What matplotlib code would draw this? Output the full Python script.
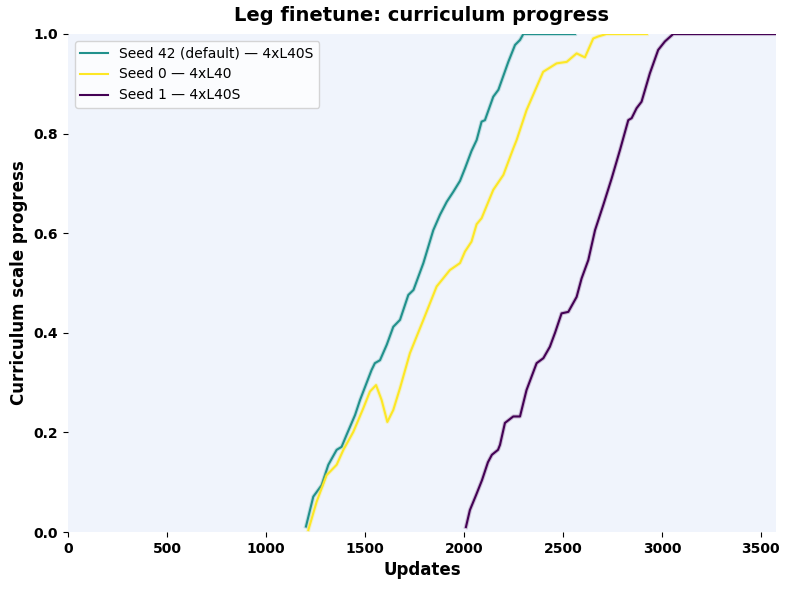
import matplotlib.pyplot as plt

# curriculum progress per seed
seed42_updates = [1202, 1239, 1281, 1315, 1357, 1382, 1407, 1450, 1475, 1533, 1550, 1576,
                  1610, 1643, 1660, 1677, 1719, 1745, 1795, 1845, 1879, 1913, 1946, 1980,
                  2005, 2038, 2064, 2089, 2106, 2148, 2174, 2224, 2258, 2283, 2300, 2561]
seed42_progress = [0.011, 0.071, 0.094, 0.135, 0.165, 0.171, 0.195, 0.235, 0.265, 0.325, 0.339, 0.345,
                   0.376, 0.412, 0.419, 0.426, 0.476, 0.486, 0.540, 0.606, 0.637, 0.663, 0.683, 0.705,
                   0.730, 0.765, 0.787, 0.824, 0.827, 0.874, 0.888, 0.944, 0.978, 0.988, 1.0, 1.0]

seed0_updates = [1214, 1256, 1306, 1357, 1391, 1441, 1491, 1525, 1556, 1584, 1613, 1643,
                 1677, 1727, 1795, 1862, 1929, 1980, 2005, 2038, 2064, 2089, 2148, 2199,
                 2249, 2266, 2316, 2400, 2468, 2519, 2569, 2611, 2653, 2678, 2720, 2924]
seed0_progress = [0.004, 0.061, 0.114, 0.135, 0.165, 0.201, 0.248, 0.282, 0.295, 0.265, 0.221, 0.245,
                  0.289, 0.359, 0.426, 0.493, 0.526, 0.540, 0.563, 0.583, 0.618, 0.630, 0.687, 0.717,
                  0.770, 0.787, 0.847, 0.924, 0.941, 0.944, 0.961, 0.953, 0.991, 0.995, 1.0, 1.0]

seed1_updates = [2010, 2030, 2061, 2091, 2121, 2141, 2172, 2182, 2207, 2249, 2283, 2316,
                 2367, 2401, 2434, 2460, 2493, 2527, 2569, 2594, 2628, 2662, 2704, 2746,
                 2788, 2830, 2847, 2872, 2897, 2939, 2981, 3015, 3057, 3576]
seed1_progress = [0.01, 0.044, 0.074, 0.104, 0.14, 0.155, 0.165, 0.175, 0.219, 0.232, 0.232, 0.285,
                  0.339, 0.349, 0.372, 0.40, 0.439, 0.442, 0.472, 0.509, 0.546, 0.606, 0.657, 0.710,
                  0.767, 0.827, 0.831, 0.851, 0.864, 0.921, 0.968, 0.985, 1.0, 1.0]

labels = ["Seed 42 (default) \u2014 4xL40S", "Seed 0 \u2014 4xL40", "Seed 1 \u2014 4xL40S"]
colors = ["#21918c", "#fde725", "#440154"]


def main():
    fig, ax = plt.subplots(figsize=(7.87, 5.9), dpi=100)
    ax.set_facecolor("#f0f4fc")

    runs = [(seed42_updates, seed42_progress), (seed0_updates, seed0_progress),
            (seed1_updates, seed1_progress)]
    for (x, y), lab, c in zip(runs, labels, colors):
        ax.plot(x, y, color=c, lw=3.0, alpha=0.22)
        ax.plot(x, y, color=c, lw=1.5, label=lab)

    ax.set_xlim(0, max(seed1_updates))
    ax.set_ylim(0, 1.0)
    ax.set_xticks(range(0, 3501, 500))
    for s in ax.spines.values():
        s.set_visible(False)
    ax.tick_params(labelsize=10)
    for t in ax.get_xticklabels() + ax.get_yticklabels():
        t.set_fontweight("bold")

    ax.set_title("Leg finetune: curriculum progress", fontsize=14, fontweight="bold", pad=9)
    ax.set_xlabel("Updates", fontsize=12, fontweight="bold")
    ax.set_ylabel("Curriculum scale progress", fontsize=12, fontweight="bold")
    ax.legend(loc="upper left", fontsize=10)

    fig.subplots_adjust(left=0.0864, right=0.986, top=0.9424, bottom=0.0983)
    fig.savefig("out.png")


if __name__ == "__main__":
    main()
